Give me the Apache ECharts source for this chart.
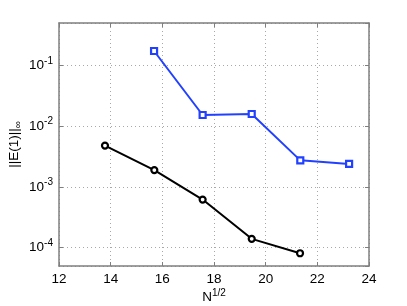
<!DOCTYPE html>
<html><head><meta charset="utf-8">
<script src="https://cdn.jsdelivr.net/npm/echarts@6/dist/echarts.min.js"></script>
<style>html,body{margin:0;padding:0;background:#fff}#c{width:407px;height:306px}</style>
</head><body><div id="c"></div>
<script>
const xTicks = [12, 14, 16, 18, 20, 22, 24];
const blackX = [13.78, 15.69, 17.56, 19.46, 21.33];
const blackY = [4.8e-3, 1.9e-3, 6.2e-4, 1.4e-4, 8.1e-5];
const blueX = [15.68, 17.56, 19.46, 21.34, 23.23];
const blueY = [0.173, 0.0153, 0.0159, 2.74e-3, 2.39e-3];
const yMin = 5e-5, yMax = 0.5;

const font = 'Liberation Sans, Arial, Helvetica, sans-serif';
const axisGray = '#7f7f7f';
const chart = echarts.init(document.getElementById('c'));
const pair = (xs, ys) => xs.map((x, i) => [x, ys[i]]);
const supLabel = v => {
  const e = Math.round(Math.log10(v));
  return '{b|10}{s|' + e + '}';
};
const gridLine = {show: true, lineStyle: {color: '#a8a8a8', type: [1, 3], width: 1}};
chart.setOption({
  animation: false,
  grid: {left: 59, right: 38, top: 23, bottom: 40, containLabel: false, outerBoundsMode: 'none'},
  xAxis: [{
    type: 'value', min: xTicks[0], max: xTicks[xTicks.length - 1], interval: 2,
    position: 'bottom',
    axisLine: {show: true, lineStyle: {color: axisGray, width: 1.5}},
    axisTick: {show: true, inside: true, length: 4, lineStyle: {color: axisGray}},
    axisLabel: {color: '#000', fontFamily: font, fontSize: 13.5, margin: 6},
    splitLine: gridLine,
    name: '{b|N}{s|1/2}', nameLocation: 'middle', nameGap: 22, nameMoveOverlap: false,
    nameTextStyle: {rich: {
      b: {fontFamily: font, fontSize: 13.5, color: '#000'},
      s: {fontFamily: font, fontSize: 10, color: '#000', padding: [0, 0, 9, 0]}
    }}
  }, {
    type: 'value', min: xTicks[0], max: xTicks[xTicks.length - 1], interval: 2,
    position: 'top',
    axisLine: {show: true, lineStyle: {color: axisGray, width: 1.5}},
    axisTick: {show: true, inside: true, length: 4, lineStyle: {color: axisGray}},
    axisLabel: {show: false}, splitLine: {show: false}
  }],
  yAxis: [{
    type: 'log', min: yMin, max: yMax, logBase: 10,
    position: 'left',
    axisLine: {show: true, lineStyle: {color: axisGray, width: 1.5}},
    axisTick: {show: true, inside: true, length: 4, lineStyle: {color: axisGray}},
    axisLabel: {color: '#000', fontFamily: font, showMinLabel: false, showMaxLabel: false, margin: 6,
      formatter: supLabel,
      rich: {
        b: {fontFamily: font, fontSize: 13.5, color: '#000'},
        s: {fontFamily: font, fontSize: 10, color: '#000', padding: [0, 0, 9, 0]}
      }},
    splitLine: gridLine,
    name: '{b|||E(1)||}{s|∞}', nameLocation: 'middle', nameGap: 36, nameRotate: 90, nameMoveOverlap: false,
    nameTextStyle: {rich: {
      b: {fontFamily: font, fontSize: 13.5, color: '#000'},
      s: {fontFamily: font, fontSize: 10, color: '#000', padding: [7, 0, 0, 0]}
    }}
  }, {
    type: 'log', min: yMin, max: yMax, logBase: 10,
    position: 'right',
    axisLine: {show: true, lineStyle: {color: axisGray, width: 1.5}},
    axisTick: {show: true, inside: true, length: 4, lineStyle: {color: axisGray}},
    axisLabel: {show: false}, splitLine: {show: false}
  }],
  series: [{
    type: 'line', data: pair(blackX, blackY), xAxisIndex: 0, yAxisIndex: 0,
    symbol: 'circle', symbolSize: 6, showAllSymbol: true,
    lineStyle: {color: '#000', width: 2},
    itemStyle: {color: '#fff', borderColor: '#000', borderWidth: 2.2}
  }, {
    type: 'line', data: pair(blueX, blueY), xAxisIndex: 0, yAxisIndex: 0,
    symbol: 'rect', symbolSize: 6, showAllSymbol: true,
    lineStyle: {color: '#2241ff', width: 2},
    itemStyle: {color: '#fff', borderColor: '#2241ff', borderWidth: 2.2}
  }]
});
</script></body></html>
